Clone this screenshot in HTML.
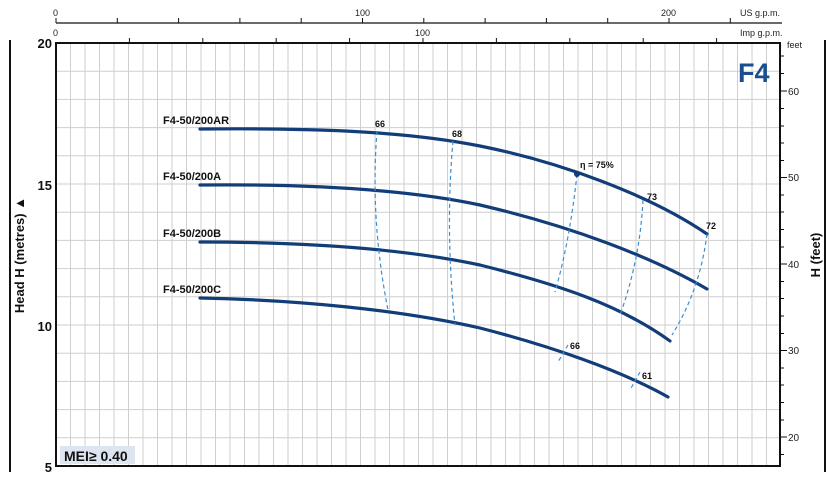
<!DOCTYPE html>
<html><head><meta charset="utf-8"><style>body{margin:0;background:#fff}svg{display:block}</style></head><body>
<svg width="836" height="477" viewBox="0 0 836 477" xmlns="http://www.w3.org/2000/svg" font-family="Liberation Sans, sans-serif">
<rect width="836" height="477" fill="#fff"/>
<g stroke="#cfcfcf">
<path d="M70.5 43V466M85 43V466M99.5 43V466M114 43V466M128.5 43V466M143 43V466M157.5 43V466M172 43V466M186.5 43V466M201 43V466M215.5 43V466M230 43V466M244.5 43V466M259 43V466M273.5 43V466M288 43V466M302.5 43V466M317 43V466M331.5 43V466M346 43V466M360.5 43V466M375 43V466M389.5 43V466M404 43V466M418.5 43V466M433 43V466M447.5 43V466M462 43V466M476.5 43V466M491 43V466M505.5 43V466M520 43V466M534.5 43V466M549 43V466M563.5 43V466M578 43V466M592.5 43V466M607 43V466M621.5 43V466M636 43V466M650.5 43V466M665 43V466M679.5 43V466M694 43V466M708.5 43V466M723 43V466M737.5 43V466M752 43V466M766.5 43V466"/>
<path d="M56 71.2H780M56 99.4H780M56 127.6H780M56 155.8H780M56 184H780M56 212.2H780M56 240.4H780M56 268.6H780M56 296.8H780M56 325H780M56 353.2H780M56 381.4H780M56 409.6H780M56 437.8H780"/>
</g>
<rect x="56" y="43" width="724" height="423" fill="none" stroke="#111" stroke-width="2"/>
<path d="M10 40V472M825 40V472" stroke="#111" stroke-width="2"/>
<path d="M56 23H782" stroke="#111" stroke-width="1.2"/>
<g stroke="#111"><path d="M56 18V23M117.3 18V23M178.6 18V23M239.9 18V23M301.2 18V23M362.5 18V23M423.8 18V23M485.1 18V23M546.4 18V23M607.7 18V23M669 18V23M730.3 18V23"/>
<path d="M129.4 38V43M202.8 38V43M276.2 38V43M349.6 38V43M423 38V43M496.4 38V43M569.8 38V43M643.2 38V43M716.6 38V43"/></g>
<g font-size="9" fill="#222"><text x="53" y="16">0</text><text x="355" y="16">100</text><text x="661" y="16">200</text><text x="740" y="16">US g.p.m.</text>
<text x="53" y="36">0</text><text x="415" y="36">100</text><text x="740" y="36">Imp g.p.m.</text></g>
<g stroke="#111"><path d="M780 91H787M780 177.5H787M780 264H787M780 350.5H787M780 437H787"/>
<path d="M780 56H784M780 73.5H784M780 108.5H784M780 126H784M780 143H784M780 160.5H784M780 195H784M780 212H784M780 229.5H784M780 247H784M780 281.5H784M780 298.5H784M780 316H784M780 333.5H784M780 368H784M780 385H784M780 402.5H784M780 420H784M780 454.5H784"/></g>
<g font-size="10" fill="#222"><text x="787" y="48" font-size="9">feet</text><text x="788" y="95">60</text><text x="788" y="181">50</text><text x="788" y="268">40</text><text x="788" y="354">30</text><text x="788" y="441">20</text></g>
<g font-size="13" font-weight="bold" fill="#111" text-anchor="end"><text x="52" y="48">20</text><text x="52" y="190">15</text><text x="52" y="331">10</text><text x="52" y="472">5</text></g>
<text transform="translate(24 255) rotate(-90)" font-size="13" font-weight="bold" text-anchor="middle" fill="#111">Head H (metres) ▲</text>
<text transform="translate(820 255) rotate(-90)" font-size="13" font-weight="bold" text-anchor="middle" fill="#111">H (feet)</text>
<text x="738" y="82" font-size="27" font-weight="bold" fill="#1a4f8f">F4</text>
<rect x="60" y="446" width="75" height="18" fill="#dde6f0"/>
<text x="64" y="461" font-size="14" font-weight="bold" fill="#111">MEI≥ 0.40</text>
<g fill="none" stroke="#123d78" stroke-width="3.2" stroke-linecap="round">
<path d="M200 129 C300 128 400 130 480 146 C560 162 650 195 707 234"/>
<path d="M200 185 C300 184 400 188 480 205 C570 226 650 256 707 289"/>
<path d="M200 242 C300 242 400 248 480 265 C560 285 620 305 670 341"/>
<path d="M200 298 C300 300 400 310 480 328 C550 346 620 370 668 397"/>
</g>
<g fill="none" stroke="#3b8fd0" stroke-width="1.2" stroke-dasharray="4 3">
<path d="M377 131 Q370 220 388 310"/>
<path d="M453 141 Q445 230 455 325"/>
<path d="M577 174 Q570 240 555 292"/>
<path d="M643 200 Q640 260 620 315"/>
<path d="M707 234 Q700 290 672 335"/>
<path d="M568 345 L558 362"/>
<path d="M640 372 L630 390"/>
</g>
<circle cx="577" cy="174" r="3" fill="#123d78"/>
<g font-size="11" font-weight="bold" fill="#111"><text x="163" y="124">F4-50/200AR</text><text x="163" y="180">F4-50/200A</text><text x="163" y="237">F4-50/200B</text><text x="163" y="293">F4-50/200C</text></g>
<g font-size="9" font-weight="bold" fill="#111"><text x="375" y="127">66</text><text x="452" y="137">68</text><text x="580" y="168">η = 75%</text><text x="647" y="200">73</text><text x="706" y="229">72</text><text x="570" y="349">66</text><text x="642" y="379">61</text></g>
</svg>
</body></html>
